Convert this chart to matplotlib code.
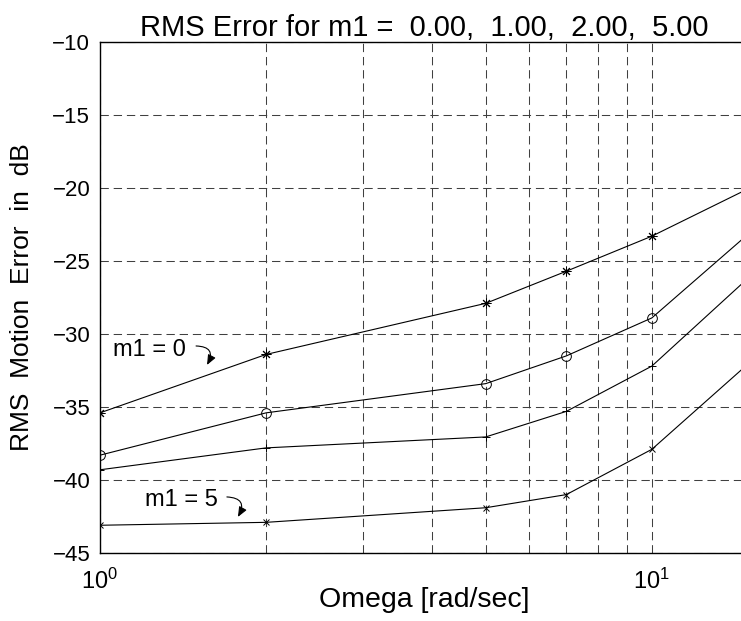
import matplotlib
matplotlib.use("Agg")
import matplotlib.pyplot as plt
from matplotlib.ticker import LogLocator, NullFormatter

plt.rcParams['font.family'] = ['Liberation Sans', 'DejaVu Sans']
plt.rcParams['lines.scale_dashes'] = False

# frequency points (rad/sec)
omega = [1, 2, 5, 7, 10, 20]

# RMS motion error in dB for each m1
err_m0 = [-35.4, -31.4, -27.9, -25.7, -23.3, -17.7]
err_m1 = [-38.3, -35.4, -33.4, -31.5, -28.9, -19.0]
err_m2 = [-39.3, -37.8, -37.05, -35.3, -32.2, -21.8]
err_m5 = [-43.1, -42.9, -41.9, -41.0, -37.9, -27.8]

series = [(err_m0, (8, 2, 0), 7), (err_m1, 'o', 7), (err_m2, '+', 6), (err_m5, 'x', 5)]

fig = plt.figure(figsize=(7.41, 6.21), dpi=100)
ax = fig.add_axes([100 / 741, 68 / 621, 649 / 741, 511 / 621])

for vals, mk, ms in series:
    ax.plot(omega, vals, color='black', lw=0.8, marker=mk, ms=ms,
            mfc='none', mec='black', mew=0.7)

ax.set_xscale('log')
ax.set_xlim(1, 15)
ax.set_ylim(-45, -10)
ax.set_yticks(range(-45, -9, 5))
ax.xaxis.set_major_locator(LogLocator(base=10))
ax.xaxis.set_minor_locator(LogLocator(base=10, subs=range(2, 10)))
ax.xaxis.set_minor_formatter(NullFormatter())

grid_kw = dict(color='0.25', lw=0.75, linestyle=(0, (6, 3.5)))
ax.grid(True, which='major', axis='both', **grid_kw)
ax.grid(True, which='minor', axis='x', **grid_kw)

ax.tick_params(which='both', direction='in', length=0)
ax.tick_params(axis='y', labelsize=16, pad=7)
ax.tick_params(axis='x', labelsize=17, pad=11)
for s in ax.spines.values():
    s.set_linewidth(1.0)

ax.set_title('RMS Error for m1 =  0.00,  1.00,  2.00,  5.00', fontsize=21, pad=4)
ax.set_xlabel('Omega [rad/sec]', fontsize=20.5)
ax.xaxis.set_label_coords(0.5, -0.066)
ax.set_ylabel('RMS  Motion  Error  in  dB', fontsize=19)
ax.yaxis.set_label_coords(-0.102, 0.5)

arrow_kw = dict(arrowstyle='-|>,head_length=0.6,head_width=0.25', color='black', lw=0.8,
                connectionstyle='arc3,rad=-0.8', shrinkA=0, shrinkB=0)
ax.text(1.056, -31.1, 'm1 = 0', fontsize=17, va='center', ha='left')
ax.annotate('', xy=(1.563, -32.12), xytext=(1.493, -30.82), arrowprops=arrow_kw)
ax.text(1.206, -41.37, 'm1 = 5', fontsize=17, va='center', ha='left')
ax.annotate('', xy=(1.778, -42.53), xytext=(1.698, -41.16), arrowprops=arrow_kw)

fig.savefig('out.png', dpi=100)
